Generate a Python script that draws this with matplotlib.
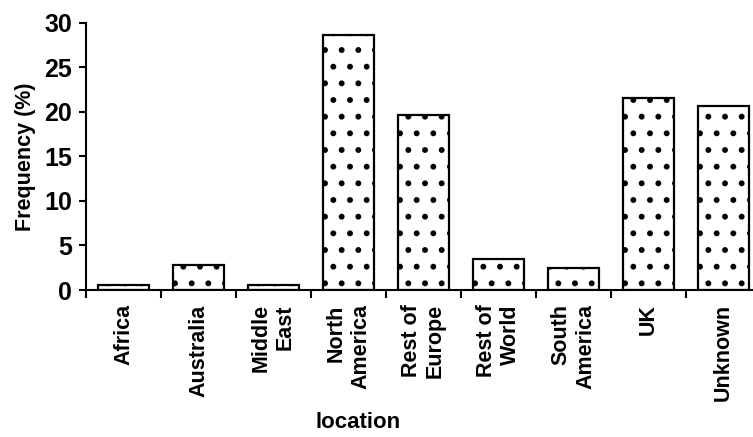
import matplotlib
matplotlib.use("Agg")
import matplotlib.pyplot as plt

locations = ["Africa", "Australia", "Middle\nEast", "North\nAmerica", "Rest of\nEurope",
             "Rest of\nWorld", "South\nAmerica", "UK", "Unknown"]
frequency = [0.55, 2.8, 0.6, 28.6, 19.6, 3.5, 2.5, 21.6, 20.6]

plt.rcParams['font.family'] = ['Liberation Sans', 'DejaVu Sans']
plt.rcParams['font.weight'] = 'bold'
plt.rcParams['hatch.linewidth'] = 1.8

fig = plt.figure(figsize=(7.53, 4.37), dpi=100)
ax = fig.add_axes([86 / 753, 1 - 290 / 437, 675 / 753, 267.3 / 437])

x = range(len(locations))
ax.bar(x, frequency, width=0.67, facecolor='white', edgecolor='black',
       linewidth=1.6, hatch='.')

ax.set_xlim(-0.5, len(locations) - 0.5)
ax.set_ylim(0, 30)
ax.set_yticks(range(0, 31, 5))
ax.tick_params(axis='y', labelsize=18, direction='out', length=5, width=1.5, pad=5)

# category labels sit between the boundary ticks
ax.set_xticks([i - 0.5 for i in range(len(locations) + 1)])
ax.set_xticklabels([])
ax.tick_params(axis='x', direction='out', length=6, width=1.5)
for i, lab in enumerate(locations):
    ax.text(i, -1.6, lab, rotation=90, ha='center', va='top', multialignment='right',
            fontsize=15.5, fontweight='bold', linespacing=1.2)

for s in ['top', 'right']:
    ax.spines[s].set_visible(False)
for s in ['left', 'bottom']:
    ax.spines[s].set_linewidth(1.5)

ax.set_ylabel('Frequency (%)', fontsize=15.5, fontweight='bold', labelpad=6)
fig.text(0.475, 0.034, 'location', ha='center', va='center', fontsize=16, fontweight='bold')

fig.savefig('out.png', dpi=100)
